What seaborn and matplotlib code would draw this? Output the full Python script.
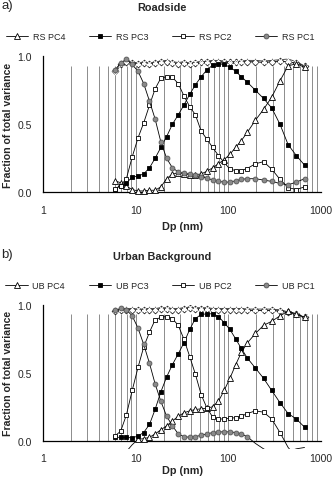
import numpy as np
import pandas as pd
import matplotlib
matplotlib.use("Agg")
import matplotlib.pyplot as plt
from matplotlib.ticker import NullLocator
import seaborn as sns

# particle size bins (nm)
dp = [5.97, 6.89, 7.94, 9.17, 10.6, 12.2, 14.1, 16.2, 18.7, 21.6, 24.9, 28.8,
      33.1, 38.3, 44.1, 50.9, 58.8, 67.7, 78.2, 90.1, 104, 120, 138, 160,
      196, 240, 294, 361, 442, 542, 664]

# a) Roadside
rs_pc4 = [0.085, 0.07, 0.045, 0.02, 0.01, 0.01, 0.015, 0.015, 0.04, 0.10, 0.135, 0.14,
          0.135, 0.13, 0.13, 0.135, 0.155, 0.18, 0.21, 0.24, 0.28, 0.33, 0.38, 0.44,
          0.53, 0.61, 0.70, 0.82, 0.93, 0.945, 0.92]
rs_pc3 = [0.02, 0.05, 0.07, 0.11, 0.12, 0.135, 0.18, 0.25, 0.33, 0.41, 0.50, 0.57,
          0.64, 0.72, 0.79, 0.85, 0.90, 0.935, 0.945, 0.94, 0.92, 0.89, 0.85, 0.81,
          0.75, 0.69, 0.62, 0.50, 0.35, 0.27, 0.20]
rs_pc2 = [0.025, 0.05, 0.10, 0.26, 0.40, 0.51, 0.64, 0.76, 0.84, 0.85, 0.845, 0.80,
          0.71, 0.63, 0.57, 0.45, 0.39, 0.33, 0.27, 0.22, 0.17, 0.16, 0.16, 0.175,
          0.21, 0.225, 0.17, 0.095, 0.035, 0.02, 0.04]
rs_pc1 = [0.90, 0.95, 0.98, 0.94, 0.89, 0.80, 0.67, 0.54, 0.37, 0.25, 0.18, 0.15,
          0.14, 0.135, 0.125, 0.115, 0.105, 0.09, 0.08, 0.075, 0.075, 0.085, 0.095, 0.10,
          0.10, 0.09, 0.08, 0.065, 0.055, 0.075, 0.10]
rs_tot = [0.87, 0.94, 0.975, 0.96, 0.95, 0.96, 0.95, 0.96, 0.965, 0.97, 0.96, 0.955,
          0.96, 0.95, 0.955, 0.96, 0.965, 0.97, 0.97, 0.965, 0.96, 0.96, 0.965, 0.97,
          0.97, 0.965, 0.97, 0.975, 0.98, 0.96, 0.93]
rs_sum = [0.89, 0.94, 0.96, 0.95, 0.945, 0.95, 0.945, 0.95, 0.955, 0.96, 0.95, 0.945,
          0.95, 0.945, 0.95, 0.955, 0.96, 0.96, 0.96, 0.955, 0.955, 0.955, 0.96, 0.96,
          0.96, 0.955, 0.96, 0.965, 0.96, 0.95, 0.93]

# b) Urban Background
ub_pc4 = [-0.15, -0.12, -0.08, -0.03, 0.01, 0.015, 0.025, 0.05, 0.08, 0.11, 0.145, 0.18,
          0.205, 0.22, 0.23, 0.235, 0.24, 0.25, 0.29, 0.37, 0.46, 0.56, 0.65, 0.72,
          0.79, 0.85, 0.88, 0.92, 0.955, 0.935, 0.91]
ub_pc3 = [0.025, 0.025, 0.025, 0.02, 0.035, 0.06, 0.12, 0.23, 0.36, 0.47, 0.56, 0.64,
          0.72, 0.82, 0.90, 0.93, 0.935, 0.935, 0.915, 0.87, 0.82, 0.75, 0.68, 0.61,
          0.535, 0.46, 0.37, 0.28, 0.20, 0.16, 0.10]
ub_pc2 = [0.035, 0.07, 0.19, 0.37, 0.54, 0.69, 0.80, 0.89, 0.91, 0.915, 0.90, 0.85,
          0.75, 0.62, 0.49, 0.34, 0.24, 0.175, 0.16, 0.16, 0.165, 0.17, 0.18, 0.20,
          0.22, 0.21, 0.16, 0.06, -0.05, -0.12, -0.15]
ub_pc1 = [0.96, 0.975, 0.965, 0.92, 0.83, 0.71, 0.57, 0.42, 0.29, 0.18, 0.11, 0.05,
          0.03, 0.025, 0.03, 0.04, 0.05, 0.06, 0.065, 0.065, 0.065, 0.06, 0.05, 0.03,
          -0.02, -0.06, -0.09, -0.10, -0.08, -0.06, -0.05]
ub_tot = [0.96, 0.97, 0.975, 0.975, 0.97, 0.97, 0.975, 0.975, 0.98, 0.98, 0.975, 0.975,
          0.98, 0.985, 0.98, 0.98, 0.98, 0.975, 0.975, 0.975, 0.975, 0.975, 0.975, 0.97,
          0.97, 0.97, 0.97, 0.965, 0.95, 0.93, 0.91]
ub_sum = [0.955, 0.96, 0.965, 0.965, 0.96, 0.96, 0.965, 0.965, 0.97, 0.97, 0.965, 0.965,
          0.97, 0.975, 0.97, 0.97, 0.97, 0.965, 0.965, 0.965, 0.965, 0.965, 0.965, 0.96,
          0.96, 0.96, 0.96, 0.955, 0.945, 0.93, 0.91]

sns.set_style("white")
plt.rcParams["font.family"] = ["Liberation Sans", "DejaVu Sans"]

W, H = 334, 485
fig = plt.figure(figsize=(W / 100, H / 100), dpi=100)

YMIN = -0.06
grid_x = [k * 10 ** n for n in range(3) for k in range(2, 11)]

styles = {
    "PC4": dict(marker="^", markersize=4.0, markerfacecolor="white", markeredgecolor="black"),
    "PC3": dict(marker="s", markersize=3.3, markerfacecolor="black", markeredgecolor="black"),
    "PC2": dict(marker="s", markersize=3.5, markerfacecolor="white", markeredgecolor="black"),
    "PC1": dict(marker="o", markersize=3.5, markerfacecolor="#8a8a8a", markeredgecolor="#555555"),
}


def panel(y0_px, y1_px, tag, title, prefix, series, tot, ssum, tag_y, leg_y, xl_y):
    # y0_px: pixel row of 0.0, y1_px: pixel row of 1.0
    ppu = y0_px - y1_px
    bottom = y0_px - YMIN * ppu
    ax = fig.add_axes([43 / W, 1 - bottom / H, 278 / W, (bottom - y1_px) / H])
    ax.patch.set_alpha(0)

    ax.vlines(grid_x, 0, 0.93, color="#8c8c8c", lw=0.7, zorder=1)

    df = pd.DataFrame({"dp": dp})
    for name, vals in series:
        df[name] = vals
        idx = [i for i, v in enumerate(vals) if v >= 0]
        sns.lineplot(data=df, x="dp", y=name, ax=ax, color="black", lw=0.6,
                     markeredgewidth=0.6, markevery=idx, label=f"{prefix} {name}",
                     zorder=3, **styles[name])

    df["tot"] = tot
    df["sum"] = ssum
    sns.lineplot(data=df, x="dp", y="sum", ax=ax, color="black", lw=0.6, marker="D",
                 markersize=3.5, markerfacecolor="white", markeredgecolor="black",
                 markeredgewidth=0.5, label="_nolegend_", zorder=2)
    sns.lineplot(data=df, x="dp", y="tot", ax=ax, color="#333333", lw=0.6, marker="x",
                 markersize=5, markeredgewidth=0.6, label="_nolegend_", zorder=2)

    ax.set_xscale("log")
    ax.set_xlim(1, 1000)
    ax.set_ylim(YMIN, 1.0)
    ax.set_xticks([1, 10, 100, 1000])
    ax.set_xticklabels(["1", "10", "100", "1000"])
    ax.xaxis.set_minor_locator(NullLocator())
    ax.set_yticks([0, 0.5, 1.0])
    ax.set_yticklabels(["0.0", "0.5", "1.0"])
    ax.tick_params(axis="x", direction="out", length=3, width=0.8, labelsize=7.5, pad=6)
    ax.tick_params(axis="y", direction="out", length=3, width=0.8, labelsize=7.5, pad=5)
    ax.set_xlabel("")
    ax.set_ylabel("")
    for s in ["top", "right"]:
        ax.spines[s].set_visible(False)
    ax.spines["bottom"].set_position(("data", 0))
    ax.spines["left"].set_bounds(0, 1)
    for s in ["bottom", "left"]:
        ax.spines[s].set_linewidth(0.9)
        ax.spines[s].set_color("black")

    handles, labels = ax.get_legend_handles_labels()
    ax.legend(handles, labels, loc="center", bbox_to_anchor=(160 / W, 1 - leg_y / H),
              bbox_transform=fig.transFigure, ncol=4, frameon=False, fontsize=6.5,
              handlelength=2.5, handletextpad=0.5, columnspacing=2.6, borderpad=0)

    fig.text(1 / W, 1 - tag_y / H, tag, fontsize=9.5, ha="left", va="center")
    fig.text(162 / W, 1 - (tag_y + 2) / H, title, fontsize=7.8, fontweight="bold",
             ha="center", va="center")
    fig.text(182 / W, 1 - xl_y / H, "Dp (nm)", fontsize=7.8, fontweight="bold",
             ha="center", va="center")
    fig.text(8 / W, 1 - (y0_px + y1_px) / 2 / H, "Fraction of total variance",
             fontsize=7.6, fontweight="bold", rotation=90, ha="center", va="center")
    return ax


panel(193.3, 57.3, "a)", "Roadside", "RS",
      [("PC4", rs_pc4), ("PC3", rs_pc3), ("PC2", rs_pc2), ("PC1", rs_pc1)],
      rs_tot, rs_sum, tag_y=6, leg_y=37.7, xl_y=227)
panel(441.7, 306.0, "b)", "Urban Background", "UB",
      [("PC4", ub_pc4), ("PC3", ub_pc3), ("PC2", ub_pc2), ("PC1", ub_pc1)],
      ub_tot, ub_sum, tag_y=255, leg_y=286.7, xl_y=471)

fig.savefig("out.png", dpi=100)
